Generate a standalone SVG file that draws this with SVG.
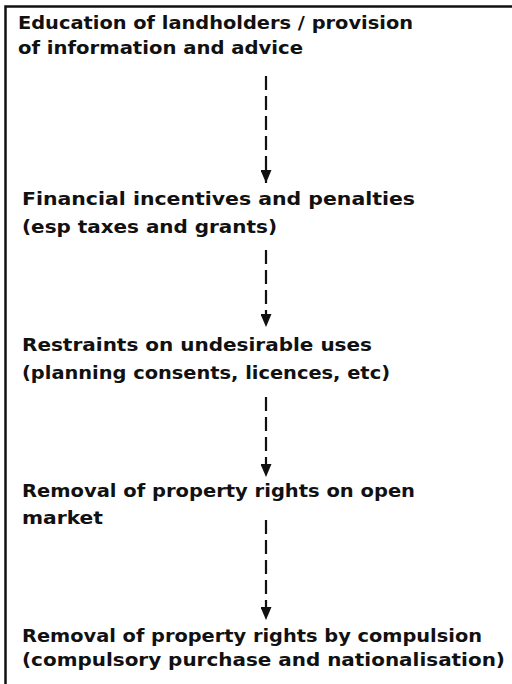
<svg xmlns="http://www.w3.org/2000/svg" width="512" height="684" viewBox="0 0 512 684">
<style>
.t{font-family:"DejaVu Sans","Liberation Sans",sans-serif;font-size:17.5px;font-weight:bold;fill:#111;}
.c{stroke:#111;stroke-width:2.2;stroke-dasharray:14 6;fill:none;}
.b{stroke:#111;stroke-width:2.5;fill:none;}
</style>
<defs>
<marker id="ah" markerWidth="13" markerHeight="11" refX="13" refY="5.5" orient="auto" markerUnits="userSpaceOnUse" viewBox="0 0 13 11">
<path d="M0,0 L13,5.5 L0,11 Z" fill="#111"/>
</marker>
</defs>
<rect width="512" height="684" fill="#fff"/>
<path class="b" d="M5.5,684 V6.5 H512"/>
<g id="node1">
<text class="t" x="18" y="29" textLength="395" lengthAdjust="spacingAndGlyphs">Education of landholders / provision</text>
<text class="t" x="18" y="54" textLength="285" lengthAdjust="spacingAndGlyphs">of information and advice</text>
</g>
<g id="node2">
<text class="t" x="22" y="205" textLength="393" lengthAdjust="spacingAndGlyphs">Financial incentives and penalties</text>
<text class="t" x="22" y="233" textLength="255" lengthAdjust="spacingAndGlyphs">(esp taxes and grants)</text>
</g>
<g id="node3">
<text class="t" x="22" y="351" textLength="350" lengthAdjust="spacingAndGlyphs">Restraints on undesirable uses</text>
<text class="t" x="22" y="379" textLength="368" lengthAdjust="spacingAndGlyphs">(planning consents, licences, etc)</text>
</g>
<g id="node4">
<text class="t" x="22" y="497" textLength="393" lengthAdjust="spacingAndGlyphs">Removal of property rights on open</text>
<text class="t" x="22" y="524" textLength="81" lengthAdjust="spacingAndGlyphs">market</text>
</g>
<g id="node5">
<text class="t" x="22" y="642" textLength="460" lengthAdjust="spacingAndGlyphs">Removal of property rights by compulsion</text>
<text class="t" x="22" y="666" textLength="483" lengthAdjust="spacingAndGlyphs">(compulsory purchase and nationalisation)</text>
</g>
<g id="connectors">
<line class="c" x1="266" y1="76" x2="266" y2="183" marker-end="url(#ah)"/>
<line class="c" x1="266" y1="250" x2="266" y2="327" marker-end="url(#ah)"/>
<line class="c" x1="266" y1="397" x2="266" y2="477" marker-end="url(#ah)"/>
<line class="c" x1="266" y1="520" x2="266" y2="620" marker-end="url(#ah)"/>
</g>
</svg>
